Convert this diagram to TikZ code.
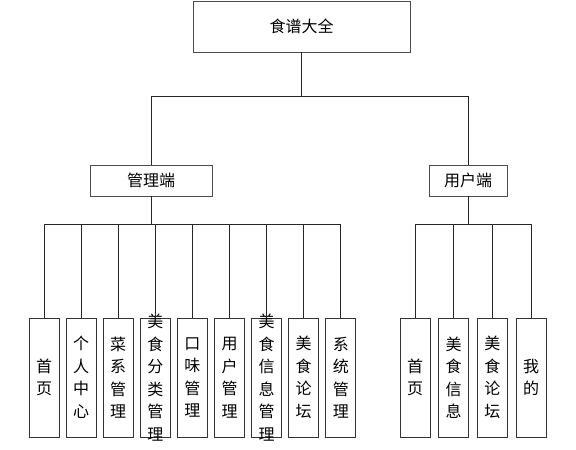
\documentclass[tikz,border=0pt]{standalone}
\usepackage{fontspec}
\newfontfamily\cjk{Noto Sans CJK SC}
\usetikzlibrary{positioning}

\begin{document}
\begin{tikzpicture}[x=1pt,y=-1pt,font=\cjk\fontsize{16}{22.5}\selectfont,
    box/.style={draw=black!70,line width=0.9pt,inner sep=0pt},
    leafbox/.style={draw=black!80,line width=0.8pt,minimum width=30pt,minimum height=119pt,inner sep=0pt},
    leaftext/.style={align=center,inner sep=0pt},
    link/.style={draw=black!85,line width=0.8pt}]
    \useasboundingbox (0,0) rectangle (576,450);

    % top levels
    \node [box,minimum width=217pt,minimum height=51pt] (root) at (301.5,26.5) {食谱大全};
    \node [box,minimum width=122pt,minimum height=31pt] (admin) at (151,180.5) {管理端};
    \node [box,minimum width=78pt,minimum height=31pt] (user) at (468,180.5) {用户端};
    \coordinate (bus0) at (0,96);
    \coordinate (bus1) at (0,224);

    % leaves of 管理端
    \foreach \txt [count=\i] in {{首\\页},{个\\人\\中\\心},{菜\\系\\管\\理},{美\\食\\分\\类\\管\\理},{口\\味\\管\\理},{用\\户\\管\\理},{美\\食\\信\\息\\管\\理},{美\\食\\论\\坛},{系\\统\\管\\理}} {
        \node [leafbox] (a\i) at ({44+37.1*(\i-1)},377.5) {};
        \node [leaftext] (a\i-t) at (a\i) {\txt};
    }

    % leaves of 用户端
    \foreach \txt [count=\i] in {{首\\页},{美\\食\\信\\息},{美\\食\\论\\坛},{我\\的}} {
        \node [leafbox] (u\i) at ({415+38.7*(\i-1)},377.5) {};
        \node [leaftext] (u\i-t) at (u\i) {\txt};
    }

    % connectors
    \draw [link] (root.south) -- (root.south |- bus0);
    \draw [link] (admin.north) |- (bus0 -| user.north) -- (user.north);
    \draw [link] (admin.south) -- (admin.south |- bus1);
    \draw [link] (a1.north |- bus1) -- (a9.north |- bus1);
    \foreach \i in {1,...,9}
        \draw [link] (a\i.north |- bus1) -- (a\i.north);
    \draw [link] (user.south) -- (user.south |- bus1);
    \draw [link] (u1.north |- bus1) -- (u4.north |- bus1);
    \foreach \i in {1,...,4}
        \draw [link] (u\i.north |- bus1) -- (u\i.north);
\end{tikzpicture}
\end{document}
